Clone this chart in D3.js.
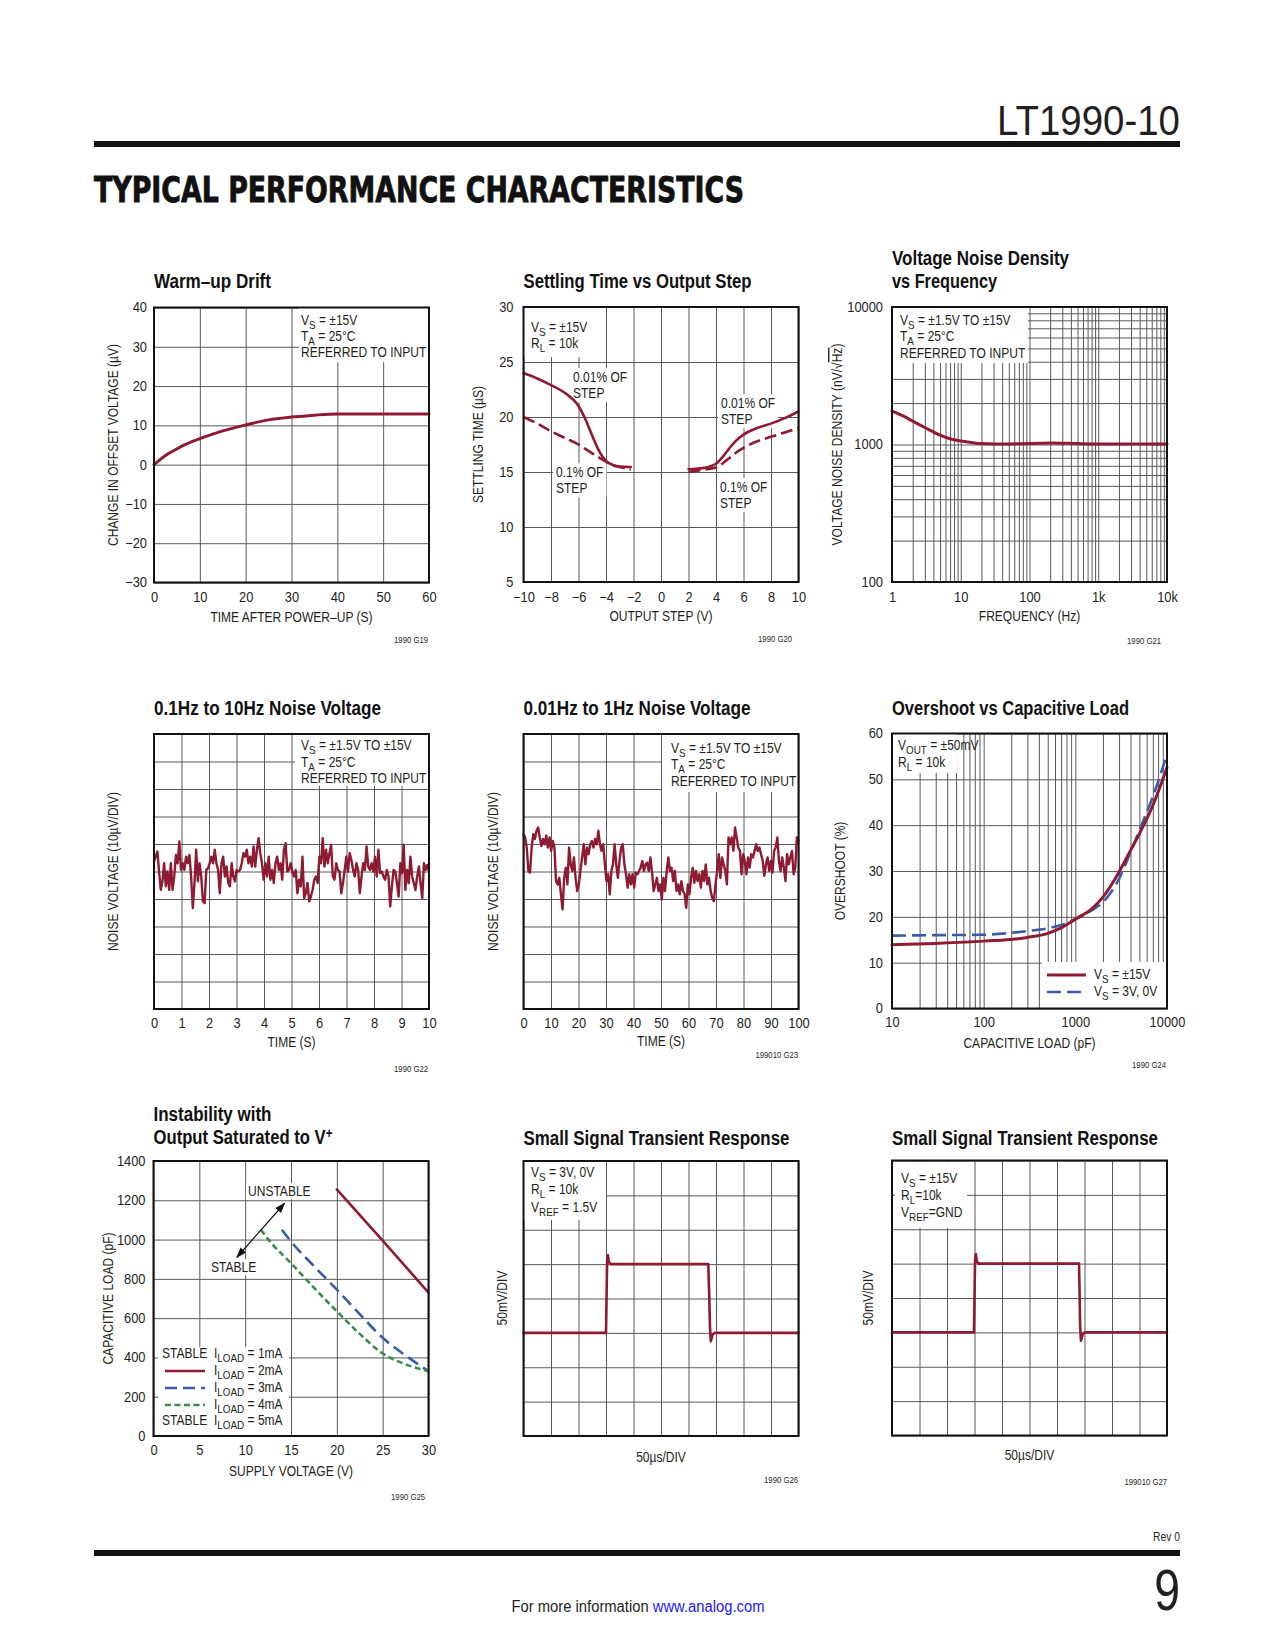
<!DOCTYPE html>
<html><head><meta charset="utf-8">
<script src="https://cdn.jsdelivr.net/npm/d3@7"></script>
<style>body{margin:0;background:#fff}</style>
</head><body>
<script>
// ================= DATA =================
// Warm-up drift
const warmTime  = [0, 3, 5, 7, 10, 15, 20, 25, 30, 35, 40, 50, 60];
const warmDrift = [0, 2.7, 4, 5.2, 6.6, 8.6, 10.1, 11.4, 12.1, 12.6, 12.9, 12.9, 12.9];
// Settling time vs output step
const stepNeg      = [-10, -9, -8, -7, -6, -5.5, -5, -4.5, -4, -3.5, -3, -2.2];
const settleNeg001 = [24.0, 23.5, 22.9, 22.2, 21.0, 19.8, 18.3, 16.9, 16.0, 15.65, 15.5, 15.45];
const settleNeg01  = [20.0, 19.4, 18.7, 18.1, 17.5, 17.1, 16.7, 16.3, 15.95, 15.6, 15.45, 15.2];
const stepPos      = [2, 3, 4, 4.5, 5, 5.5, 6, 7, 8, 9, 10];
const settlePos001 = [15.25, 15.35, 15.75, 16.4, 17.2, 17.9, 18.4, 19.0, 19.4, 19.9, 20.5];
const settlePos01  = [15.0, 15.2, 15.4, 15.8, 16.3, 16.8, 17.2, 17.8, 18.2, 18.6, 19.0];
// Voltage noise density
const ndFreq  = [1, 1.5, 2, 3, 5, 7, 10, 15, 20, 30, 50, 100, 200, 500, 1000, 2000, 5000, 10000];
const ndValue = [1750, 1600, 1480, 1330, 1170, 1100, 1060, 1030, 1015, 1010, 1010, 1015, 1025, 1015, 1010, 1010, 1010, 1010];
// 0.1Hz to 10Hz noise (µV), evenly sampled over 0..10 s
const noise01to10 = [3.6, 5.4, 7.3, 0, -6.7, -3.6, 3.0, -5.4, 0, -6.7, 3.0, -6.7, -1.8, 6.0, 3.0, 10.9, 0.6, 3.0, 0.6, 5.4, 3.0, 6.0, -1.8, -13.3, -4.2, 7.9, -3.6, 3.0, -1.8, -10.9, -11.5, 0.6, 1.2, 3.0, 5.4, 3.0, 7.9, 3.0, 0.6, -7.9, 3.0, 5.4, -1.8, 1.8, -4.2, -5.4, 3.0, -1.8, -3.6, 0.6, 0, 0.6, 3.0, 6.7, 5.4, 7.9, 3.0, 5.4, 1.8, 9.1, 1.8, 7.9, 12.1, 6.7, 3.0, -3.0, 3.0, -1.8, 5.4, -3.0, 0.6, -4.2, 3.0, 5.4, 0.6, 3.0, -3.0, 7.9, 10.3, 0, 0.6, 3.0, 0, -1.8, 0.6, -7.9, -3.0, -5.4, 5.4, -9.7, -7.9, -4.2, -10.9, -9.1, -6.7, -3.0, -1.8, -4.2, 5.4, 3.0, 12.1, 1.8, 7.9, 3.0, 6.7, 9.7, -1.8, -3.0, 3.0, 0.6, 0, -7.9, -4.2, 0.6, 5.4, 0, 6.7, 4.2, 0.6, -1.8, 3.0, 0.6, -7.9, -1.8, 3.0, 0.6, 9.1, 1.8, 0.6, 3.0, 0, 5.4, -1.8, 7.9, -0.6, 0, -1.8, -3.0, 0.6, -1.8, -12.7, -5.4, 0.6, 0, -4.2, -9.1, 3.0, -0.6, 9.7, -6.7, 0.6, -4.2, 5.4, -1.8, -4.2, -6.7, -1.8, 1.8, -4.2, -9.7, 3.0, 0.6, 2.4, 0];
// 0.01Hz to 1Hz noise (µV), evenly sampled over 0..100 s
const noise001to1 = [13.6, 12.4, 8.7, 0.2, -0.4, 8.7, 13.6, 11.8, 14.8, 16.0, 12.4, 9.3, 11.8, 9.9, 13.0, 8.7, 12.4, 7.5, 11.1, 8.7, -3.5, -4.7, -2.3, -8.3, -13.8, -2.3, 1.4, -4.7, 8.7, 2.6, 0.2, 5.1, -2.3, -7.1, -4.7, 0.2, 5.1, 9.9, 2.6, 8.7, 6.3, 9.9, 11.1, 8.7, 11.8, 9.9, 14.8, 9.9, 7.5, 9.9, 2.6, -3.5, -1.0, -8.3, 0.2, 2.6, 9.9, 2.6, -2.3, 3.8, 8.7, 9.9, 2.6, -1.0, -5.9, -1.0, -4.7, -1.0, -5.9, -0.4, -1.0, 0.2, 1.4, 3.8, 0.2, 2.6, 3.2, 0.2, 5.1, -0.4, -7.1, -4.7, -2.3, -7.1, -4.7, -10.2, -2.3, -7.1, 0.2, 5.1, 0.2, 1.4, -3.5, 0.2, -7.1, -4.7, -8.3, -3.5, -7.1, -8.3, -13.2, -4.7, -8.3, -2.3, 1.4, -4.1, 0.2, -3.5, -1.0, -5.9, 0.2, -3.5, 2.6, -4.7, -2.3, -7.1, -9.6, -10.8, -4.7, 0.2, 6.3, -2.3, 5.1, 2.6, 0.2, -4.7, 12.4, 9.9, 12.4, 7.5, 16.0, 12.4, 8.7, 7.5, -1.0, 6.3, 3.8, -1.0, 5.1, 1.4, 6.3, 5.1, 7.5, 9.9, 7.5, 8.7, 6.3, 3.8, -1.6, 2.6, 5.1, 0.2, 3.8, -0.4, 7.5, 8.7, 12.4, 3.8, 0.2, 5.1, 1.4, -3.5, 6.3, 2.6, 5.1, 7.5, -1.0, 1.4, 12.4, 11.1];
// Overshoot vs capacitive load
const capLoad     = [10, 30, 100, 300, 500, 700, 1000, 1500, 2000, 3000, 4000, 5000, 7000, 10000];
const overshoot15 = [13.9, 14.2, 14.7, 15.5, 16.4, 17.6, 19.5, 21.7, 24.3, 29.8, 34.5, 38.1, 44.3, 52.6];
const overshoot3  = [15.9, 16.0, 16.1, 16.9, 17.5, 18.2, 19.5, 21.4, 23.2, 28.3, 34.1, 38.9, 46.2, 55.4];
// Instability with output saturated to V+
const supply2mA = [20, 25, 30];
const cap2mA    = [1255, 995, 730];
const supply3mA = [14, 15, 17.5, 20, 22.5, 25, 27.5, 30];
const cap3mA    = [1050, 990, 865, 745, 620, 500, 410, 330];
const supply4mA = [11.7, 13, 15, 17.5, 20, 22.5, 25, 27.5, 30];
const cap4mA    = [1050, 975, 880, 755, 635, 520, 420, 365, 330];
const arrowFrom = [9.1, 910], arrowTo = [14.3, 1185];
// Small signal transient (µs, mV relative to baseline)
const tr1Time = [0, 150, 151, 152, 153.5, 155, 158, 336, 337.5, 339, 340.5, 342, 344, 348, 500];
const tr1mV   = [0, 0, 50, 105, 113, 104, 100, 100, 60, 10, -12, -8, -2, 0, 0];
const tr2Time = [0, 149, 150, 151, 152.5, 154, 157, 340, 341, 342, 343.5, 345, 347, 351, 500];
const tr2mV   = [0, 0, 50, 105, 114, 104, 100, 100, 60, 10, -12, -8, -2, 0, 0];

// tick values
const ticks1X = d3.range(0, 61, 10), ticks1Y = d3.range(-30, 41, 10);
const ticks2X = d3.range(-10, 11, 2), ticks2Y = d3.range(5, 31, 5);
const ticks3X = [1, 10, 100, 1000, 10000], labels3X = ["1", "10", "100", "1k", "10k"];
const ticks3Y = [100, 1000, 10000];
const ticks4X = d3.range(0, 11, 1), ticks5X = d3.range(0, 101, 10);
const ticks6X = [10, 100, 1000, 10000], ticks6Y = d3.range(0, 61, 10);
const ticks7X = d3.range(0, 31, 5), ticks7Y = d3.range(0, 1401, 200);

// ================= DRAWING =================
const W = 1275, H = 1650;
const FONT = "'Liberation Sans',Arial,Helvetica,sans-serif";
const SX = 0.86;   // horizontal condensing of text (condensed Helvetica look)
const TSX = 0.92;  // condensing of tick numbers
const TXT = "#231f20", GRID = "#595959", RED = "#8e1b32", BLUE = "#3b5ba8", GREEN = "#3a8c4b";
const svg = d3.select("body").append("svg").attr("width", W).attr("height", H)
  .attr("font-family", FONT).style("background", "#fff");
svg.append("rect").attr("width", W).attr("height", H).attr("fill", "#fff");

const defs = svg.append("defs");
defs.append("marker").attr("id", "arr").attr("viewBox", "0 0 10 10")
  .attr("refX", 9).attr("refY", 5).attr("markerWidth", 9).attr("markerHeight", 9)
  .attr("orient", "auto-start-reverse")
  .append("path").attr("d", "M0,1.5 L10,5 L0,8.5 Z").attr("fill", "#111");

function rich(parent, x, y, str, size, anchor, opts = {}) {
  const sx = opts.sx == null ? SX : opts.sx;
  const tf = opts.rotate
    ? `translate(${x},${y}) rotate(-90) scale(${sx},1)`
    : `translate(${x},${y}) scale(${sx},1)`;
  const t = parent.append("text").attr("x", 0).attr("y", 0).attr("transform", tf)
    .attr("font-family", FONT).attr("font-size", size).attr("fill", TXT);
  if (anchor) t.attr("text-anchor", anchor);
  const re = /(_\{[^}]*\}|\^\{[^}]*\}|~\{[^}]*\})/;
  let shift = 0;
  str.split(re).filter(s => s.length).forEach(s => {
    let ts;
    if (s.startsWith("_{")) {
      ts = t.append("tspan").attr("dy", size * 0.25 + shift).attr("font-size", size * 0.82).text(s.slice(2, -1));
      shift = -size * 0.25;
    } else if (s.startsWith("^{")) {
      ts = t.append("tspan").attr("dy", -size * 0.3 + shift).attr("font-size", size * 0.7).text(s.slice(2, -1));
      shift = size * 0.3;
    } else if (s.startsWith("~{")) {
      ts = t.append("tspan").style("text-decoration", "overline").text(s.slice(2, -1));
      if (shift) ts.attr("dy", shift);
      shift = 0;
    } else {
      ts = t.append("tspan").text(s);
      if (shift) ts.attr("dy", shift);
      shift = 0;
    }
  });
  return t;
}

function panel(x0, y0, xs, ys, w = 275, h = 275) {
  const g = svg.append("g");
  const p = { x0, y0, w, h, g };
  p.grid = g.append("g"); p.box = g.append("g"); p.data = g.append("g");
  p.text = g.append("g"); p.frame = g.append("g"); p.axes = g.append("g");
  p.x = xs.range([x0, x0 + w]); p.y = ys.range([y0 + h, y0]);
  return p;
}
function grid(p, xv, yv) {
  p.grid.append("g").attr("transform", `translate(0,${p.y0 + p.h})`)
    .call(d3.axisBottom(p.x).tickValues(xv).tickSize(-p.h).tickFormat(""))
    .call(s => s.select(".domain").remove());
  p.grid.append("g").attr("transform", `translate(${p.x0},0)`)
    .call(d3.axisLeft(p.y).tickValues(yv).tickSize(-p.w).tickFormat(""))
    .call(s => s.select(".domain").remove());
  p.grid.selectAll("line").attr("stroke", GRID).attr("stroke-width", 1);
}
function frame(p) {
  p.frame.append("rect").attr("x", p.x0).attr("y", p.y0).attr("width", p.w).attr("height", p.h)
    .attr("fill", "none").attr("stroke", "#111").attr("stroke-width", 2);
}
function xLabels(p, vals, fmt, pad = 10) {
  p.axes.append("g").attr("transform", `translate(0,${p.y0 + p.h})`)
    .call(d3.axisBottom(p.x).tickValues(vals).tickSize(0).tickPadding(pad).tickFormat(fmt))
    .call(s => s.select(".domain").remove())
    .selectAll("text").attr("font-family", FONT).attr("font-size", 14).attr("fill", TXT)
    .attr("transform", `scale(${TSX},1)`);
}
function yLabels(p, vals, fmt, pad = 8) {
  p.axes.append("g").attr("transform", `translate(${p.x0},0)`)
    .call(d3.axisLeft(p.y).tickValues(vals).tickSize(0).tickPadding(pad / TSX).tickFormat(fmt))
    .call(s => s.select(".domain").remove())
    .selectAll("text").attr("font-family", FONT).attr("font-size", 14).attr("fill", TXT)
    .attr("transform", `scale(${TSX},1)`);
}
function title(p, lines, baselines, lengths) {
  lines.forEach((s, i) => {
    rich(svg, p.x0, baselines[i], s, 20, null, { sx: 1 }).attr("font-weight", "bold").attr("fill", "#111")
      .attr("textLength", lengths[i]).attr("lengthAdjust", "spacingAndGlyphs");
  });
}
function xTitle(p, s, baseline) { rich(p.text, p.x0 + p.w / 2, baseline, s, 14, "middle"); }
function yTitle(p, s, cx, cy) {
  rich(p.text, cx + 5, cy || (p.y0 + p.h / 2), s, 14, "middle", { rotate: true });
}
function code(p, s, right, baseline) {
  p.text.append("text").attr("transform", `translate(${right},${baseline}) scale(${SX},1)`)
    .attr("text-anchor", "end").attr("font-size", 9).attr("fill", TXT).text(s);
}
function whiteBox(p, x1, y1, x2, y2) {
  p.box.append("rect").attr("x", x1).attr("y", y1).attr("width", x2 - x1).attr("height", y2 - y1).attr("fill", "#fff");
}
function note(p, x, baselines, lines, size = 14) {
  return lines.map((s, i) => rich(p.text, x, baselines[i], s, size));
}
function noteBoxed(p, x, baselines, lines, pad = 3) {
  const ts = note(p, x, baselines, lines);
  const sv = svg.node().getBoundingClientRect();
  let x1 = Infinity, y1 = Infinity, x2 = -Infinity, y2 = -Infinity;
  ts.forEach(t => {
    const b = t.node().getBoundingClientRect();
    x1 = Math.min(x1, b.left - sv.left); y1 = Math.min(y1, b.top - sv.top);
    x2 = Math.max(x2, b.right - sv.left); y2 = Math.max(y2, b.bottom - sv.top);
  });
  whiteBox(p, x1 - pad, y1 - pad + 2, x2 + pad, y2 + pad - 2);
}
function curve(p, xs, ys, color, width, dash, smooth = true) {
  const ln = d3.line().x(d => p.x(d[0])).y(d => p.y(d[1]));
  if (smooth) ln.curve(d3.curveMonotoneX);
  const path = p.data.append("path").datum(xs.map((v, i) => [v, ys[i]])).attr("d", ln)
    .attr("fill", "none").attr("stroke", color).attr("stroke-width", width)
    .attr("stroke-linejoin", "round").attr("stroke-linecap", dash ? "butt" : "round");
  if (dash) path.attr("stroke-dasharray", dash);
  return path;
}
function logGrid(lo, hi) {
  const v = [];
  for (let d = lo; d < hi; d *= 10) for (let k = 1; k <= 9; k++) v.push(k * d);
  v.push(hi);
  return v;
}

// ---------- page header ----------
svg.append("text").attr("x", 1180).attr("y", 135).attr("text-anchor", "end")
  .attr("font-size", 42).attr("fill", "#231f20").attr("textLength", 183).attr("lengthAdjust", "spacingAndGlyphs")
  .text("LT1990-10");
svg.append("rect").attr("x", 94).attr("y", 141).attr("width", 1086).attr("height", 6).attr("fill", "#111");
svg.append("text").attr("x", 94).attr("y", 202)
  .attr("font-family", "'DejaVu Sans Condensed','DejaVu Sans',sans-serif").attr("font-weight", "bold")
  .attr("font-size", 36).attr("fill", "#111").attr("stroke", "#111").attr("stroke-width", 0.8)
  .attr("textLength", 650).attr("lengthAdjust", "spacingAndGlyphs")
  .text("TYPICAL PERFORMANCE CHARACTERISTICS");

// ---------- Chart 1: Warm-up Drift ----------
const p1 = panel(154, 307.5, d3.scaleLinear().domain([0, 60]), d3.scaleLinear().domain([-30, 40]));
grid(p1, ticks1X, ticks1Y);
xLabels(p1, ticks1X, d3.format("d"), 10);
yLabels(p1, ticks1Y, d3.format("d"), 7);
whiteBox(p1, 299, 308, 429, 362);
note(p1, 301, [325, 341, 357], ["V_{S} = ±15V", "T_{A} = 25°C", "REFERRED TO INPUT"]);
curve(p1, warmTime, warmDrift, RED, 3);
frame(p1);
title(p1, ["Warm–up Drift"], [288], [117]);
xTitle(p1, "TIME AFTER POWER–UP (S)", 622);
yTitle(p1, "CHANGE IN OFFSET VOLTAGE (µV)", 113);
code(p1, "1990 G19", 428, 643);

// ---------- Chart 2: Settling Time ----------
const p2 = panel(523.5, 307, d3.scaleLinear().domain([-10, 10]), d3.scaleLinear().domain([5, 30]));
grid(p2, ticks2X, ticks2Y);
xLabels(p2, ticks2X, d3.format("d"), 10);
yLabels(p2, ticks2Y, d3.format("d"), 10);
whiteBox(p2, 524, 308, 593, 357);
note(p2, 531, [332, 348], ["V_{S} = ±15V", "R_{L} = 10k"]);
noteBoxed(p2, 573, [382, 398], ["0.01% OF", "STEP"]);
noteBoxed(p2, 556, [477, 493], ["0.1% OF", "STEP"]);
noteBoxed(p2, 721, [408, 424], ["0.01% OF", "STEP"]);
noteBoxed(p2, 720, [492, 508], ["0.1% OF", "STEP"]);
curve(p2, stepNeg, settleNeg001, RED, 2.6);
curve(p2, stepNeg, settleNeg01, RED, 2.6, "12,5");
curve(p2, stepPos, settlePos001, RED, 2.6);
curve(p2, stepPos, settlePos01, RED, 2.6, "12,5");
frame(p2);
title(p2, ["Settling Time vs Output Step"], [288], [228]);
xTitle(p2, "OUTPUT STEP  (V)", 621);
yTitle(p2, "SETTLING TIME (µS)", 478);
code(p2, "1990 G20", 792, 642);

// ---------- Chart 3: Voltage Noise Density ----------
const p3 = panel(892, 307, d3.scaleLog().domain([1, 10000]), d3.scaleLog().domain([100, 10000]));
grid(p3, logGrid(1, 10000), logGrid(100, 10000));
xLabels(p3, ticks3X, (d, i) => labels3X[i], 10);
yLabels(p3, ticks3Y, d3.format("d"), 9);
whiteBox(p3, 893, 308, 1028, 363);
note(p3, 900, [325, 341, 358], ["V_{S} = ±1.5V TO ±15V", "T_{A} = 25°C", "REFERRED TO INPUT"]);
curve(p3, ndFreq, ndValue, RED, 3);
frame(p3);
title(p3, ["Voltage Noise Density", "vs Frequency"], [265, 288], [177, 105]);
xTitle(p3, "FREQUENCY (Hz)", 621);
yTitle(p3, "VOLTAGE NOISE DENSITY (nV/√~{Hz})", 837);
code(p3, "1990 G21", 1161, 644);

// ---------- Chart 4: 0.1Hz to 10Hz noise ----------
const p4 = panel(154, 734, d3.scaleLinear().domain([0, 10]), d3.scaleLinear().domain([-50, 50]));
grid(p4, ticks4X, d3.range(-50, 51, 10));
xLabels(p4, ticks4X, d3.format("d"), 9);
whiteBox(p4, 295, 735, 429, 786);
note(p4, 301, [750, 767, 783], ["V_{S} = ±1.5V TO ±15V", "T_{A} = 25°C", "REFERRED TO INPUT"]);
curve(p4, noise01to10.map((v, i) => i * 10 / (noise01to10.length - 1)), noise01to10, RED, 2.4, null, false);
frame(p4);
title(p4, ["0.1Hz to 10Hz Noise Voltage"], [715], [227]);
xTitle(p4, "TIME (S)", 1047);
yTitle(p4, "NOISE VOLTAGE (10µV/DIV)", 113);
code(p4, "1990 G22", 428, 1072);

// ---------- Chart 5: 0.01Hz to 1Hz noise ----------
const p5 = panel(523.5, 734, d3.scaleLinear().domain([0, 100]), d3.scaleLinear().domain([-50, 50]));
grid(p5, ticks5X, d3.range(-50, 51, 10));
xLabels(p5, ticks5X, d3.format("d"), 9);
whiteBox(p5, 662, 735, 798, 792);
note(p5, 671, [753, 769, 786], ["V_{S} = ±1.5V TO ±15V", "T_{A} = 25°C", "REFERRED TO INPUT"]);
curve(p5, noise001to1.map((v, i) => i * 100 / (noise001to1.length - 1)), noise001to1, RED, 2.4, null, false);
frame(p5);
title(p5, ["0.01Hz to 1Hz Noise Voltage"], [715], [227]);
xTitle(p5, "TIME (S)", 1046);
yTitle(p5, "NOISE VOLTAGE (10µV/DIV)", 493);
code(p5, "199010 G23", 798, 1058);

// ---------- Chart 6: Overshoot vs Capacitive Load ----------
const p6 = panel(892, 733.5, d3.scaleLog().domain([10, 10000]), d3.scaleLinear().domain([0, 60]));
grid(p6, logGrid(10, 10000), ticks6Y);
xLabels(p6, ticks6X, d3.format("d"), 9);
yLabels(p6, ticks6Y, d3.format("d"), 9);
whiteBox(p6, 893, 734, 957, 773);
note(p6, 898, [750, 767], ["V_{OUT} = ±50mV", "R_{L} = 10k"]);
whiteBox(p6, 1042, 962, 1167, 1008);
curve(p6, capLoad, overshoot3, BLUE, 2.6, "14,6");
curve(p6, capLoad, overshoot15, RED, 3);
p6.text.append("line").attr("x1", 1047).attr("x2", 1086).attr("y1", 975).attr("y2", 975).attr("stroke", RED).attr("stroke-width", 3);
p6.text.append("line").attr("x1", 1047).attr("x2", 1086).attr("y1", 992).attr("y2", 992).attr("stroke", BLUE).attr("stroke-width", 2.6).attr("stroke-dasharray", "14,6");
note(p6, 1094, [979, 996], ["V_{S} = ±15V", "V_{S} = 3V, 0V"]);
frame(p6);
title(p6, ["Overshoot vs Capacitive Load"], [715], [237]);
xTitle(p6, "CAPACITIVE LOAD (pF)", 1048);
yTitle(p6, "OVERSHOOT (%)", 840);
code(p6, "1990 G24", 1166, 1068);

// ---------- Chart 7: Instability ----------
const p7 = panel(153.5, 1161, d3.scaleLinear().domain([0, 30]), d3.scaleLinear().domain([0, 1400]));
grid(p7, ticks7X, ticks7Y);
xLabels(p7, ticks7X, d3.format("d"), 9);
yLabels(p7, ticks7Y, d3.format("d"), 8);
whiteBox(p7, 158, 1347, 289, 1436);
noteBoxed(p7, 248, [1196], ["UNSTABLE"], 2);
noteBoxed(p7, 211, [1272], ["STABLE"], 2);
curve(p7, supply2mA, cap2mA, RED, 2.6);
curve(p7, supply3mA, cap3mA, BLUE, 2.6, "12,6");
curve(p7, supply4mA, cap4mA, GREEN, 2.6, "6,3.5");
p7.text.append("line")
  .attr("x1", p7.x(arrowFrom[0])).attr("y1", p7.y(arrowFrom[1]))
  .attr("x2", p7.x(arrowTo[0])).attr("y2", p7.y(arrowTo[1]))
  .attr("stroke", "#111").attr("stroke-width", 1.2)
  .attr("marker-start", "url(#arr)").attr("marker-end", "url(#arr)");
const legY7 = [1358, 1375, 1392, 1409, 1425];
rich(p7.text, 162, legY7[0], "STABLE", 14);
rich(p7.text, 162, legY7[4], "STABLE", 14);
note(p7, 214, legY7, ["I_{LOAD} = 1mA", "I_{LOAD} = 2mA", "I_{LOAD} = 3mA", "I_{LOAD} = 4mA", "I_{LOAD} = 5mA"]);
p7.text.append("line").attr("x1", 165).attr("x2", 205).attr("y1", legY7[1] - 4).attr("y2", legY7[1] - 4).attr("stroke", RED).attr("stroke-width", 2.6);
p7.text.append("line").attr("x1", 165).attr("x2", 205).attr("y1", legY7[2] - 4).attr("y2", legY7[2] - 4).attr("stroke", BLUE).attr("stroke-width", 2.6).attr("stroke-dasharray", "12,6");
p7.text.append("line").attr("x1", 165).attr("x2", 205).attr("y1", legY7[3] - 4).attr("y2", legY7[3] - 4).attr("stroke", GREEN).attr("stroke-width", 2.6).attr("stroke-dasharray", "6,3.5");
frame(p7);
title(p7, ["Instability with", "Output Saturated to V^{+}"], [1121, 1144], [118, 179]);
xTitle(p7, "SUPPLY VOLTAGE (V)", 1476);
yTitle(p7, "CAPACITIVE LOAD (pF)", 108);
code(p7, "1990 G25", 425, 1500);

// ---------- Chart 8: Small Signal Transient (3V) ----------
const p8 = panel(523.5, 1161, d3.scaleLinear().domain([0, 500]), d3.scaleLinear().domain([-150, 250]));
grid(p8, d3.range(0, 501, 50), d3.range(-150, 251, 50));
whiteBox(p8, 524, 1162, 606, 1220);
note(p8, 531, [1177, 1194, 1212], ["V_{S} = 3V, 0V", "R_{L} = 10k", "V_{REF} = 1.5V"]);
curve(p8, tr1Time, tr1mV, RED, 2.6, null, false);
frame(p8);
title(p8, ["Small Signal Transient Response"], [1145], [266]);
xTitle(p8, "50µs/DIV", 1462);
yTitle(p8, "50mV/DIV", 502, 1298);
code(p8, "1990 G26", 798, 1483);

// ---------- Chart 9: Small Signal Transient (±15V) ----------
const p9 = panel(892, 1160.5, d3.scaleLinear().domain([0, 500]), d3.scaleLinear().domain([-150, 250]));
grid(p9, d3.range(0, 501, 50), d3.range(-150, 251, 50));
whiteBox(p9, 895, 1162, 967, 1228);
note(p9, 901, [1183, 1200, 1217], ["V_{S} = ±15V", "R_{L}=10k", "V_{REF}=GND"]);
curve(p9, tr2Time, tr2mV, RED, 2.6, null, false);
frame(p9);
title(p9, ["Small Signal Transient Response"], [1145], [266]);
xTitle(p9, "50µs/DIV", 1460);
yTitle(p9, "50mV/DIV", 868, 1298);
code(p9, "199010 G27", 1167, 1485);

// ---------- footer ----------
svg.append("text").attr("transform", `translate(1180,1541) scale(${SX},1)`).attr("text-anchor", "end")
  .attr("font-size", 12).attr("fill", TXT).text("Rev 0");
svg.append("rect").attr("x", 94).attr("y", 1550).attr("width", 1086).attr("height", 6).attr("fill", "#111");
svg.append("text").attr("transform", "translate(1180,1610) scale(0.8,1)").attr("text-anchor", "end")
  .attr("font-size", 58).attr("fill", TXT).text("9");
const foot = svg.append("text").attr("x", 638).attr("y", 1612).attr("text-anchor", "middle")
  .attr("font-size", 16).attr("fill", TXT).attr("textLength", 253).attr("lengthAdjust", "spacingAndGlyphs");
foot.append("tspan").text("For more information ");
foot.append("tspan").attr("fill", "#1a1aff").text("www.analog.com");
</script>
</body></html>
